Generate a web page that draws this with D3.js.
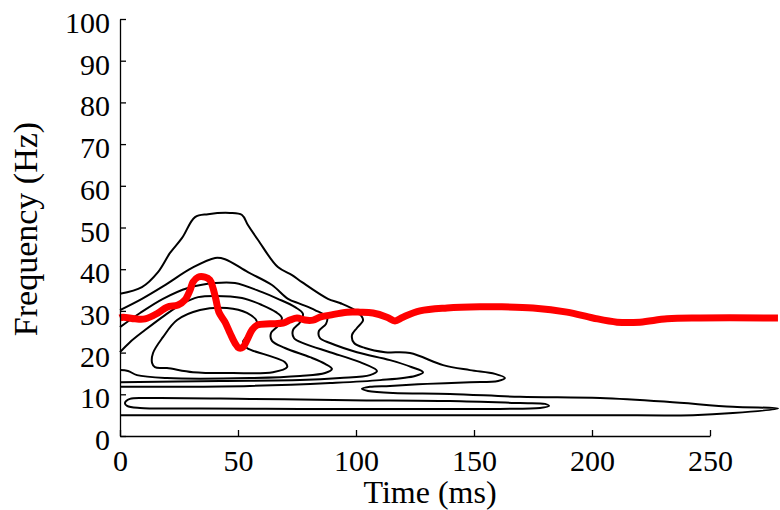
<!DOCTYPE html>
<html>
<head>
<meta charset="utf-8">
<script src="https://cdn.jsdelivr.net/npm/d3@7"></script>
<style>
  html, body { margin: 0; padding: 0; background: #fff; }
  svg { display: block; }
</style>
</head>
<body>
<svg id="chart" width="780" height="510"></svg>
<script>
// ---- data (time in ms, frequency in Hz) ----
const xTicks = [0, 50, 100, 150, 200, 250];
const yTicks = [0, 10, 20, 30, 40, 50, 60, 70, 80, 90, 100];
const xLabel = "Time (ms)";
const yLabel = "Frequency (Hz)";

// red ridge line: [time, frequency]
const ridge = [
  [0,28.3],[1.3,28.5],[6.4,28.1],[10.6,28.1],[16.1,29.5],[19.9,30.9],[24.6,31.4],[27.5,32.6],
  [29.7,35.0],[30.9,36.9],[33.1,38.1],[36.0,38.1],[38.1,37.4],[39.4,35.5],[40.7,32.6],[41.9,29.7],
  [44.5,27.3],[46.6,24.7],[48.7,22.3],[50.4,21.1],[52.1,21.3],[53.8,23.0],[55.9,25.4],[58.1,26.6],
  [63.6,26.9],[69.1,27.1],[72.0,27.8],[75.0,28.3],[78.4,27.8],[81.8,27.8],[84.7,28.5],[89.0,29.0],
  [96.2,29.7],[101.7,29.7],[107.2,29.5],[113.1,28.5],[116.5,27.6],[119.9,28.5],[127.1,30.0],
  [138.6,30.7],[152.5,31.0],[161.0,31.0],[175.0,30.7],[189.4,29.7],[200.4,28.3],[210.6,27.3],
  [220.3,27.3],[231.8,28.1],[245.8,28.3],[278.8,28.3]
];

// open contours (cut by t = 0)
const contourA = [
  [0,34.1],[9.3,35.7],[16.1,39.3],[21.2,43.9],[26.3,47.5],[31.8,52.5],[37.3,53.2],[46.6,53.5],
  [51.7,53.0],[54.2,50.6],[58.5,47.0],[66.9,40.5],[72.9,38.6],[77.1,36.9],[88.1,32.9],[93.2,31.9],
  [100.8,29.7],[103.0,27.8],[100.4,25.9],[98.3,24.2],[99.2,22.3],[103.8,21.1],[112.3,20.1],
  [122.9,19.9],[136.9,17.0],[148.3,15.8],[158.9,14.9],[163.1,13.9],[160.2,13.2],[148.3,12.9],
  [130.1,12.5],[114.4,12.0],[105.9,11.8],[102.5,11.3],[105.1,10.8],[115.7,10.3],[139.8,10.1],
  [169.5,9.4],[203.4,9.1],[231.8,8.2],[259.7,7.0],[278.8,6.6],[259.7,5.5],[242.8,5.0],
  [203.4,5.0],[118.6,5.0],[33.9,5.0],[0,5.0]
];
const contourB = [
  [0,30.2],[9.3,32.9],[19.1,36.2],[30.5,40.3],[40.3,42.7],[44.5,42.4],[54.2,39.3],[64.4,36.2],
  [71.2,32.9],[76.3,31.7],[82.6,30.2],[87.7,28.5],[87.3,26.9],[84.3,25.2],[84.7,23.5],[89.0,22.3],
  [100.4,20.1],[114.4,18.2],[123.7,16.5],[128.4,15.3],[125.0,14.4],[110.2,13.4],[89.0,12.7],
  [55.1,12.0],[25.4,11.8],[0,11.8]
];
const contourC = [
  [0,26.1],[8.5,29.5],[18.2,32.9],[28.8,35.5],[40.3,36.7],[48.7,36.7],[60.2,34.5],[66.9,32.9],
  [74.2,30.9],[77.5,29.3],[76.3,27.3],[73.3,25.4],[73.7,23.5],[78.4,22.1],[89.0,20.1],[101.7,17.7],
  [108.9,15.6],[105.9,14.6],[93.2,13.9],[76.3,13.4],[42.4,13.2],[0,12.9]
];
const contourD = [
  [0,20.1],[4.2,22.5],[10.6,25.4],[19.1,29.0],[26.3,31.7],[33.1,33.3],[40.3,33.6],[51.7,33.1],
  [60.2,31.4],[66.1,29.7],[68.6,28.3],[66.9,26.4],[64.0,24.7],[64.4,22.8],[69.9,21.1],[80.5,18.9],
  [86.9,17.3],[89.8,16.1],[86.9,15.1],[76.3,14.4],[55.1,13.9],[19.9,13.9],[7.2,14.6],[3.4,15.6],[0,15.8]
];
// closed contours
const contourE = [
  [13.6,17.5],[14.0,19.9],[18.2,23.7],[24.2,27.8],[33.9,30.2],[45.3,30.7],[53.8,29.5],[58.1,27.3],
  [55.1,24.7],[52.1,22.5],[53.8,21.1],[62.3,19.4],[69.9,17.7],[70.8,16.5],[64.8,15.3],[47.9,15.1],
  [30.9,15.3],[19.9,16.3],[14.8,16.5]
];
const contourF = [
  [2.1,7.9],[4.2,8.9],[12.7,9.1],[55.1,8.9],[97.5,8.6],[139.8,8.4],[169.5,7.9],[180.1,7.7],
  [181.8,7.2],[178.0,6.7],[161.0,6.5],[118.6,6.5],[76.3,6.5],[33.9,6.6],[8.5,6.7],[3.0,7.2]
];

const openContours = [contourA, contourB, contourC, contourD];
const closedContours = [contourE, contourF];

// ---- drawing ----
const FONT = "'Liberation Serif', 'Times New Roman', serif";
const svg = d3.select("#chart");
const x = d3.scaleLinear().domain([0, 250]).range([120, 710]);
const y = d3.scaleLinear().domain([0, 100]).range([436, 19]);

const lineOpen = d3.line().x(d => x(d[0])).y(d => y(d[1])).curve(d3.curveCatmullRom.alpha(0.5));
const lineClosed = d3.line().x(d => x(d[0])).y(d => y(d[1])).curve(d3.curveCatmullRomClosed.alpha(0.5));

const g = svg.append("g");
g.selectAll("path.open").data(openContours).enter().append("path")
  .attr("class", "open").attr("d", lineOpen)
  .attr("fill", "none").attr("stroke", "#000").attr("stroke-width", 2);
g.selectAll("path.closed").data(closedContours).enter().append("path")
  .attr("class", "closed").attr("d", lineClosed)
  .attr("fill", "none").attr("stroke", "#000").attr("stroke-width", 2);

g.append("path").datum(ridge).attr("d", lineOpen)
  .attr("fill", "none").attr("stroke", "#ff0000").attr("stroke-width", 7)
  .attr("stroke-linejoin", "round").attr("stroke-linecap", "butt");

// axes
const xAxis = svg.append("g").attr("transform", "translate(0,436)")
  .call(d3.axisBottom(x).tickValues(xTicks).tickSizeInner(-6).tickSizeOuter(0).tickPadding(14));
const yAxis = svg.append("g").attr("transform", "translate(120,0)")
  .call(d3.axisLeft(y).tickValues(yTicks).tickSizeInner(-6).tickSizeOuter(0).tickPadding(10));

[xAxis, yAxis].forEach(a => {
  a.attr("font-family", null).attr("font-size", null);
  a.select(".domain").attr("stroke", "#000").attr("stroke-width", 1.3);
  a.selectAll(".tick line").attr("stroke", "#000").attr("stroke-width", 1.3);
  a.selectAll(".tick text").style("font-family", FONT).style("font-size", "30px").style("fill", "#000");
});
yAxis.selectAll(".tick text").attr("dy", "0.45em");

svg.append("text").attr("x", 430).attr("y", 503).attr("text-anchor", "middle")
  .style("font-family", FONT).style("font-size", "32px").style("fill", "#000").text(xLabel);
svg.append("text").attr("transform", "translate(37,229) rotate(-90)").attr("text-anchor", "middle")
  .style("font-family", FONT).style("font-size", "34px").style("fill", "#000").text(yLabel);
</script>
</body>
</html>
